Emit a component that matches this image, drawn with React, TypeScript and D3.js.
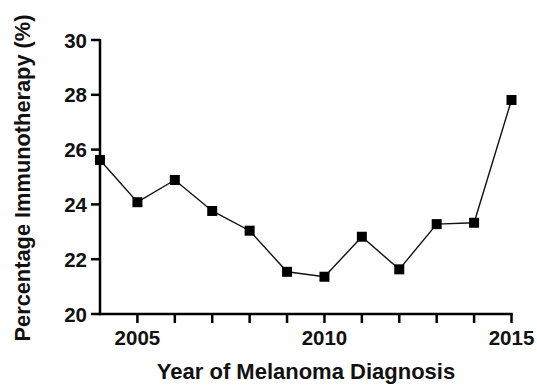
import React from "react";
import * as d3 from "d3";

const years = [2004, 2005, 2006, 2007, 2008, 2009, 2010, 2011, 2012, 2013, 2014, 2015];
const percentages = [25.62, 24.08, 24.89, 23.76, 23.04, 21.54, 21.36, 22.82, 21.63, 23.28, 23.33, 27.81];
const yTicks = [20, 22, 24, 26, 28, 30];
const xTickLabels = [2005, 2010, 2015];

const W = 537;
const H = 385;
const FONT = "'Liberation Sans', Arial, Helvetica, sans-serif";

export default function App() {
  const x = d3.scaleLinear().domain([2004, 2015]).range([100, 511.5]);
  const y = d3.scaleLinear().domain([20, 30]).range([314, 40]);
  const line = d3
    .line<number>()
    .x((_, i) => x(years[i]))
    .y((d) => y(d));
  const ms = 10;
  return (
    <svg
      width={W}
      height={H}
      style={{ position: "absolute", left: 0, top: 0, background: "#fff" }}
      fontFamily={FONT}
    >
      <rect width={W} height={H} fill="#fff" />
      {/* y axis */}
      <line x1={x(2004)} x2={x(2004)} y1={y(30) - 1} y2={y(20) + 1.25} stroke="#000" strokeWidth={2.5} />
      {yTicks.map((t) => (
        <g key={t}>
          <line x1={x(2004) - 9} x2={x(2004)} y1={y(t)} y2={y(t)} stroke="#000" strokeWidth={2.5} />
          <text
            x={x(2004) - 13}
            y={y(t)}
            textAnchor="end"
            dominantBaseline="central"
            fontSize={20.5}
            fontWeight="bold"
            fill="#111"
          >
            {t}
          </text>
        </g>
      ))}
      {/* x axis */}
      <line x1={x(2004) - 1.25} x2={x(2015) + 1.25} y1={y(20)} y2={y(20)} stroke="#000" strokeWidth={2.5} />
      {years.slice(1).map((yr) => (
        <line key={yr} x1={x(yr)} x2={x(yr)} y1={y(20)} y2={y(20) + 9} stroke="#000" strokeWidth={2.5} />
      ))}
      {xTickLabels.map((yr) => (
        <text key={yr} x={x(yr)} y={345} textAnchor="middle" fontSize={20.5} fontWeight="bold" fill="#111">
          {yr}
        </text>
      ))}
      {/* line */}
      <path d={line(percentages) || ""} fill="none" stroke="#111" strokeWidth={1.4} />
      {percentages.map((p, i) => (
        <rect key={i} x={x(years[i]) - ms / 2} y={y(p) - ms / 2} width={ms} height={ms} fill="#000" />
      ))}
      {/* axis titles */}
      <text x={306} y={379} textAnchor="middle" fontSize={22} fontWeight="bold" fill="#111">
        Year of Melanoma Diagnosis
      </text>
      <text
        transform={`translate(30, 178) rotate(-90)`}
        textAnchor="middle"
        fontSize={21.8}
        fontWeight="bold"
        fill="#111"
      >
        Percentage Immunotherapy (%)
      </text>
    </svg>
  );
}
